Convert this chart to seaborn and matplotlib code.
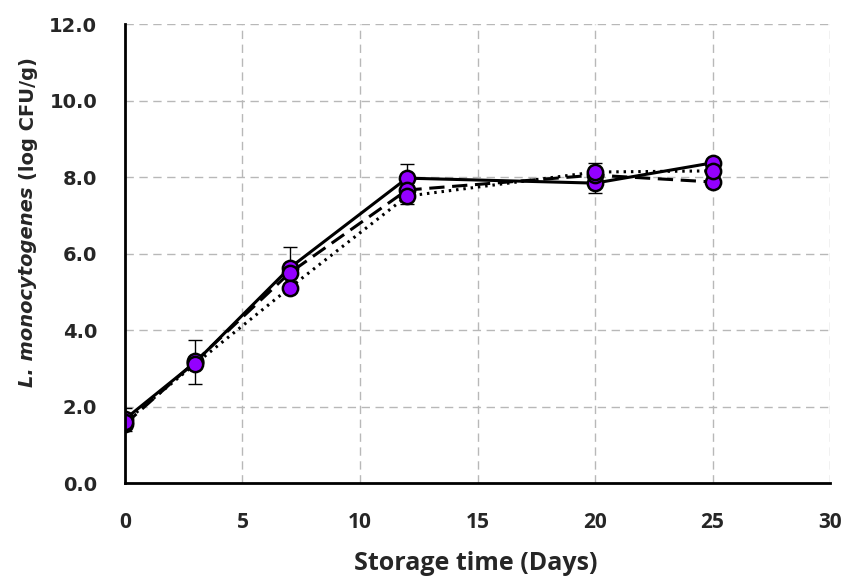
import numpy as np
import pandas as pd
import matplotlib
matplotlib.use("Agg")
import matplotlib.pyplot as plt
import seaborn as sns

# Storage days and log counts for the three treatments
days = [0, 3, 7, 12, 20, 25]
series_a = [1.67, 3.16, 5.62, 7.97, 7.84, 8.37]   # solid
series_b = [1.54, 3.18, 5.49, 7.66, 8.05, 7.87]   # dashed
series_c = [1.60, 3.12, 5.10, 7.50, 8.13, 8.16]   # dotted
err_a = [0.30, 0.58, 0.55, 0.37, 0.26, 0.08]
err_b = [0.10, 0.10, 0.10, 0.10, 0.10, 0.08]
err_c = [0.10, 0.10, 0.10, 0.20, 0.24, 0.08]
names = ["A", "B", "C"]

x_ticks = [0, 5, 10, 15, 20, 25, 30]
y_ticks = [0, 2, 4, 6, 8, 10, 12]

df = pd.DataFrame({
    "day": days * 3,
    "count": series_a + series_b + series_c,
    "series": [names[0]] * 6 + [names[1]] * 6 + [names[2]] * 6,
})

sns.set_style("white")
fig = plt.figure(figsize=(8.48, 5.77), dpi=100)
ax = fig.add_axes([0.1474, 0.1629, 0.8314, 0.7955])

purple = "#9400ff"

# error bars first so lines and markers sit on top
for vals, errs in [(series_c, err_c), (series_b, err_b), (series_a, err_a)]:
    ax.errorbar(days, vals, yerr=errs, fmt="none", ecolor="black",
                elinewidth=1.0, capsize=5, capthick=1.0, zorder=2)

sns.lineplot(data=df, x="day", y="count", style="series",
             dashes={"A": "", "B": (5, 2.5), "C": (0.8, 1.6)},
             markers={"A": "o", "B": "o", "C": "o"},
             color="black", linewidth=2.2,
             markersize=11, markerfacecolor=purple,
             markeredgecolor="black", markeredgewidth=1.8,
             legend=False, ax=ax, zorder=3)

ax.set_xlim(0, 30)
ax.set_ylim(0, 12)
ax.set_xticks(x_ticks)
ax.set_yticks(y_ticks)
ax.set_xticklabels([str(v) for v in x_ticks], fontfamily="Open Sans",
                   fontweight="bold", fontsize=15)
ax.set_yticklabels([f"{v:.1f}" for v in y_ticks], fontfamily="DejaVu Sans",
                   fontweight="bold", fontsize=14)
ax.tick_params(axis="x", length=0, pad=21)
ax.tick_params(axis="y", length=0, pad=20)

ax.grid(True, color="#b8b8b8", linestyle=(0, (6, 4)), linewidth=1.0)
ax.set_axisbelow(True)
for side in ["top", "right"]:
    ax.spines[side].set_visible(False)
for side in ["left", "bottom"]:
    ax.spines[side].set_color("black")
    ax.spines[side].set_linewidth(2.0)
    ax.spines[side].set_zorder(5)

ax.set_xlabel("")
ax.set_ylabel("")
fig.text(476 / 848, 1 - 563 / 577, "Storage time (Days)", ha="center",
         va="center", fontfamily="Open Sans", fontweight="bold", fontsize=18)

# y label: italic species name followed by upright units
t1 = fig.text(28 / 848, 1 - 387 / 577, "L. monocytogenes ", rotation=90,
              ha="center", va="bottom", fontfamily="DejaVu Sans",
              fontweight="bold", fontstyle="italic", fontsize=14)
fig.canvas.draw()
bb = t1.get_window_extent().transformed(fig.transFigure.inverted())
fig.text(28 / 848, bb.y1, "(log CFU/g)", rotation=90, ha="center",
         va="bottom", fontfamily="DejaVu Sans", fontweight="bold",
         fontsize=14)

fig.savefig("out.png", dpi=100)
